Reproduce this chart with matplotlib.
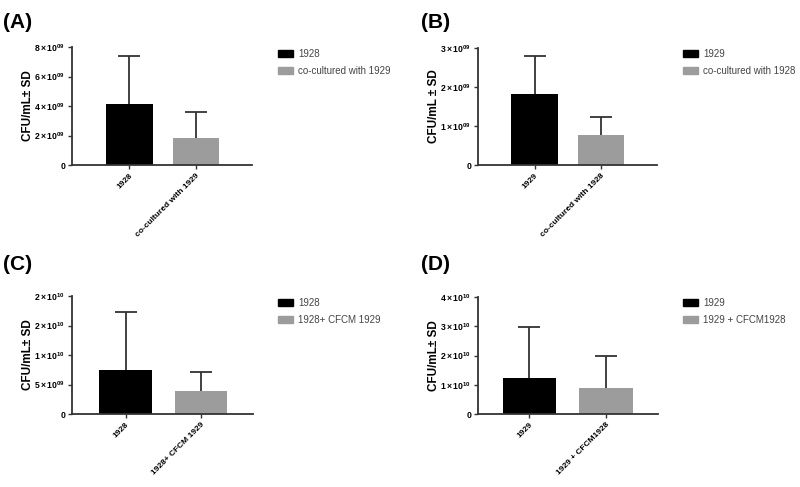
import numpy as np
import matplotlib.pyplot as plt
from matplotlib.patches import Patch

plt.rcParams['font.family'] = ['Liberation Sans', 'DejaVu Sans']
plt.rcParams['mathtext.fontset'] = 'custom'
plt.rcParams['mathtext.rm'] = 'Liberation Sans'
plt.rcParams['mathtext.bf'] = 'Liberation Sans:bold'

# ===================== 数据 =====================
# A
a_labels = ['1928', 'co-cultured with 1929']
a_means = [4.12e9, 1.85e9]
a_sd = [3.27e9, 1.75e9]
a_ticks = [0, 2e9, 4e9, 6e9, 8e9]
a_ticklabels = ['0', '2×10^{09}', '4×10^{09}', '6×10^{09}', '8×10^{09}']

# B
b_labels = ['1929', 'co-cultured with 1928']
b_means = [1.82e9, 0.77e9]
b_sd = [0.97e9, 0.47e9]
b_ticks = [0, 1e9, 2e9, 3e9]
b_ticklabels = ['0', '1×10^{09}', '2×10^{09}', '3×10^{09}']

# C
c_labels = ['1928', '1928+ CFCM 1929']
c_means = [7.5e9, 3.85e9]
c_sd = [9.8e9, 3.25e9]
c_ticks = [0, 5e9, 1e10, 1.5e10, 2e10]
c_ticklabels = ['0', '5×10^{09}', '1×10^{10}', '2×10^{10}', '2×10^{10}']

# D
d_labels = ['1929', '1929 + CFCM1928']
d_means = [1.245e10, 0.88e10]
d_sd = [1.715e10, 1.11e10]
d_ticks = [0, 1e10, 2e10, 3e10, 4e10]
d_ticklabels = ['0', '1×10^{10}', '2×10^{10}', '3×10^{10}', '4×10^{10}']

ylabels = ['CFU/mL± SD', 'CFU/mL ± SD', 'CFU/mL± SD', 'CFU/mL± SD']
BAR_COLORS = ['#000000', '#9c9c9c']
AXIS_COLOR = '#333333'
# =================================================

W, H = 800, 487


def px_rect(x0, x1, y0, y1):
    """像素坐标 -> figure坐标"""
    return [x0 / W, 1 - y1 / H, (x1 - x0) / W, (y1 - y0) / H]


def fmt_tick(t):
    if t == '0':
        return '0'
    t = t.replace('×', r'\,{\times}\,')
    return r'$\mathbf{%s}$' % t


def draw_panel(fig, rect, labels, means, sd, ticks, ticklabels, xlim, ylabel,
               tag, tag_xy, leg_xy):
    ax = fig.add_axes(rect)
    x = np.arange(len(means))
    yerr = [np.zeros(len(sd)), sd]
    ax.bar(x, means, width=0.7, color=BAR_COLORS, zorder=2)
    _, caps, _ = ax.errorbar(x, means, yerr=yerr, fmt='none', ecolor=AXIS_COLOR,
                             elinewidth=1.3, capsize=8, capthick=1.3, zorder=3)
    # 只保留上方的误差帽
    for c in caps:
        if np.allclose(c.get_ydata(), means):
            c.set_visible(False)
    ax.set_xlim(*xlim)
    ax.set_ylim(0, ticks[-1])
    ax.set_yticks(ticks)
    ax.set_yticklabels([fmt_tick(t) for t in ticklabels],
                       fontsize=6.2, fontweight='bold')
    ax.set_xticks(x)
    ax.set_xticklabels(labels, rotation=45, ha='right', rotation_mode='anchor',
                       fontsize=6, fontweight='bold')
    for s in ['top', 'right']:
        ax.spines[s].set_visible(False)
    for s in ['left', 'bottom']:
        ax.spines[s].set_color(AXIS_COLOR)
        ax.spines[s].set_linewidth(1.3)
    ax.tick_params(axis='both', length=3, width=1, color=AXIS_COLOR, pad=2)
    ax.set_ylabel(ylabel, fontsize=8.5, fontweight='bold', va='center')
    ax.yaxis.set_label_coords(-0.245, 0.5)

    fig.text(tag_xy[0] / W, 1 - tag_xy[1] / H, tag, fontsize=15,
             fontweight='bold', va='center', ha='left')

    handles = [Patch(color=c, label=l) for c, l in zip(BAR_COLORS, labels)]
    fig.legend(handles=handles, loc='upper left',
               bbox_to_anchor=(leg_xy[0] / W, 1 - leg_xy[1] / H),
               frameon=False, fontsize=7, handlelength=1.5, handleheight=0.7,
               handletextpad=0.6, labelspacing=0.75, borderaxespad=0,
               borderpad=0, labelcolor='#444444')
    return ax


fig = plt.figure(figsize=(8, 4.87), dpi=100)

draw_panel(fig, px_rect(72, 252, 47, 165), a_labels, a_means, a_sd,
           a_ticks, a_ticklabels, (-0.86, 1.84), ylabels[0],
           '(A)', (3, 23), (278, 49))
draw_panel(fig, px_rect(478, 657, 48, 165), b_labels, b_means, b_sd,
           b_ticks, b_ticklabels, (-0.85, 1.84), ylabels[1],
           '(B)', (421, 23), (683, 49))
draw_panel(fig, px_rect(72, 253, 296, 414), c_labels, c_means, c_sd,
           c_ticks, c_ticklabels, (-0.71, 1.69), ylabels[2],
           '(C)', (3, 264), (278, 298))
draw_panel(fig, px_rect(478, 658, 297, 414), d_labels, d_means, d_sd,
           d_ticks, d_ticklabels, (-0.67, 1.68), ylabels[3],
           '(D)', (421, 264), (683, 298))

plt.savefig('out.png', dpi=100)
